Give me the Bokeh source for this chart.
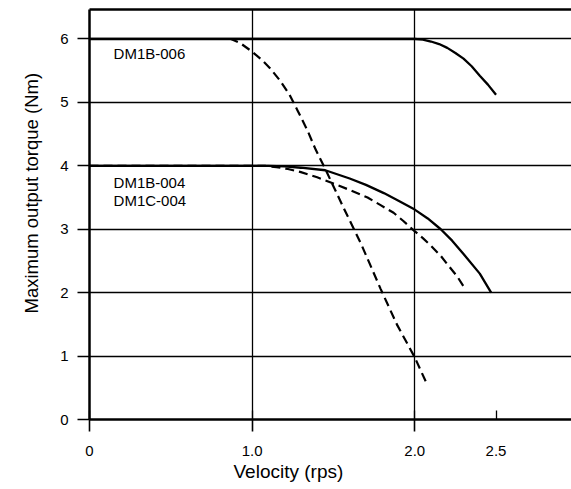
from bokeh.plotting import figure
from bokeh.models import FixedTicker, LinearAxis, Title
from bokeh.core.properties import value
from bokeh.embed import file_html
from bokeh.resources import INLINE

# ---- data ----
vel_006_solid = [0.0, 2.0, 2.05, 2.1, 2.15, 2.2, 2.25, 2.3, 2.35, 2.4, 2.45, 2.5]
torque_006_solid = [6.0, 6.0, 5.99, 5.96, 5.92, 5.86, 5.78, 5.69, 5.57, 5.42, 5.28, 5.12]

vel_006_dash = [0.0, 0.87, 0.93, 1.0, 1.06, 1.11, 1.17, 1.23, 1.28, 1.34, 1.39, 1.45,
                1.56, 1.67, 1.79, 1.89, 2.0, 2.08]
torque_006_dash = [6.0, 6.0, 5.93, 5.8, 5.67, 5.54, 5.35, 5.12, 4.87, 4.56, 4.26, 3.95,
                   3.35, 2.77, 2.06, 1.5, 0.98, 0.53]

vel_004_solid = [0.0, 1.0, 1.1, 1.2, 1.3, 1.45, 1.6, 1.7, 1.81, 1.9, 2.0,
                 2.08, 2.16, 2.23, 2.30, 2.40, 2.47]
torque_004_solid = [4.0, 4.0, 4.0, 3.99, 3.97, 3.93, 3.8, 3.7, 3.57, 3.45, 3.31,
                    3.17, 3.0, 2.82, 2.61, 2.3, 2.0]

vel_004_dash = [0.0, 1.0, 1.08, 1.15, 1.22, 1.30, 1.40, 1.50, 1.60, 1.71, 1.79, 1.87,
                1.93, 1.99, 2.05, 2.10, 2.16, 2.20, 2.26, 2.31]
torque_004_dash = [4.0, 4.0, 4.0, 3.98, 3.95, 3.90, 3.82, 3.72, 3.62, 3.50, 3.38, 3.26,
                   3.13, 2.99, 2.86, 2.74, 2.58, 2.45, 2.26, 2.06]

x_ticks = [0, 1.0, 2.0, 2.5]
x_tick_labels = ["0", "1.0", "2.0", "2.5"]
x_grid = [1.0, 2.0]
y_ticks = [0, 1, 2, 3, 4, 5, 6]

x_title = "Velocity (rps)"
y_title = "Maximum output torque (Nm)"

label_texts = ["DM1B-006", "DM1B-004", "DM1C-004"]
label_x = [0.148, 0.148, 0.148]
label_y = [5.77, 3.74, 3.45]

FONT = "Liberation Sans"

p = figure(width=571, height=489, x_range=(0, 2.964), y_range=(0, 6.465),
           output_backend="svg", toolbar_location=None,
           min_border_left=89, min_border_right=0, min_border_top=9,
           min_border_bottom=70)
p.outline_line_color = None
p.background_fill_color = "white"
p.border_fill_color = "white"

# grid
p.xgrid.ticker = FixedTicker(ticks=x_grid)
p.ygrid.ticker = FixedTicker(ticks=y_ticks[1:])
for g in (p.xgrid, p.ygrid):
    g.grid_line_color = "black"
    g.grid_line_width = 1.3
    g.grid_line_alpha = 1.0

# x axis
xa = p.xaxis[0]
xa.ticker = FixedTicker(ticks=x_ticks, minor_ticks=x_ticks[:3])
xa.major_label_overrides = {t: s for t, s in zip(x_ticks, x_tick_labels)}
xa.major_tick_in = 9
xa.major_tick_out = 0
xa.minor_tick_in = 0
xa.minor_tick_out = 12
xa.major_tick_line_width = 1.3
xa.minor_tick_line_width = 1.6
xa.minor_tick_line_color = "black"
xa.major_tick_line_color = "black"
xa.axis_line_width = 2.5
xa.axis_line_color = "black"
xa.major_label_standoff = 14

# y axis
ya = p.yaxis[0]
ya.ticker = FixedTicker(ticks=y_ticks)
ya.major_tick_in = 0
ya.major_tick_out = 12
ya.minor_tick_in = 0
ya.minor_tick_out = 0
ya.major_tick_line_width = 1.4
ya.major_tick_line_color = "black"
ya.axis_line_width = 2.5
ya.axis_line_color = "black"
ya.major_label_standoff = 9

for ax in (xa, ya):
    ax.major_label_text_font = FONT
    ax.major_label_text_font_size = "15px"
    ax.major_label_text_color = "black"

# top border as an axis line
top = LinearAxis(ticker=FixedTicker(ticks=[]), axis_line_width=2.5, axis_line_color="black",
                 major_tick_in=0, major_tick_out=0, minor_tick_in=0, minor_tick_out=0,
                 major_label_text_font_size="0px")
p.add_layout(top, "above")

# axis titles
p.add_layout(Title(text=x_title, align="left", offset=144, standoff=0,
                   text_font=FONT, text_font_size="19px", text_font_style="normal",
                   text_color="black"), "below")
p.add_layout(Title(text=y_title, align="left", offset=106, standoff=32,
                   text_font=FONT, text_font_size="18.5px", text_font_style="normal",
                   text_color="black"), "left")

# curves
p.line(vel_006_dash, torque_006_dash, line_color="black", line_width=2.2, line_dash="9 5")
p.line(vel_004_dash, torque_004_dash, line_color="black", line_width=2.2, line_dash="9 5")
p.line(vel_006_solid, torque_006_solid, line_color="black", line_width=2.3)
p.line(vel_004_solid, torque_004_solid, line_color="black", line_width=2.3)

p.text(x=label_x, y=label_y, text=label_texts, text_font=value(FONT),
       text_font_size="15px", text_color="black", text_align="left",
       text_baseline="middle")

open("out.html", "w").write(file_html(p, INLINE))
